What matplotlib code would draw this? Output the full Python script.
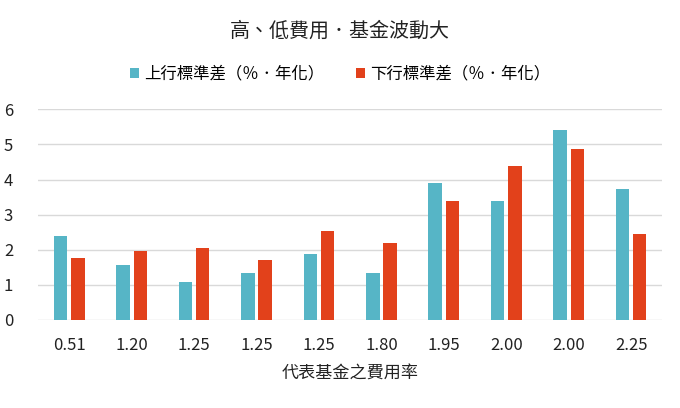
import matplotlib
matplotlib.use('Agg')
import matplotlib.pyplot as plt
import numpy as np

plt.rcParams['font.family'] = ['Noto Sans CJK TC', 'DejaVu Sans']

# 代表基金之費用率
expense_labels = ['0.51', '1.20', '1.25', '1.25', '1.25', '1.80', '1.95', '2.00', '2.00', '2.25']
upside_std = [2.39, 1.55, 1.08, 1.35, 1.87, 1.33, 3.91, 3.39, 5.40, 3.73]
downside_std = [1.76, 1.97, 2.05, 1.70, 2.53, 2.18, 3.39, 4.39, 4.87, 2.45]

blue = '#56B5C6'
red = '#E2411B'

fig = plt.figure(figsize=(6.8, 4.08), dpi=100)
ax = fig.add_axes([0.056, 0.216, 0.918, 0.516])

x = np.arange(len(expense_labels))
w = 0.216
off = 0.138
ax.bar(x - off, upside_std, w, color=blue, label='上行標準差（％．年化）', zorder=3)
ax.bar(x + off, downside_std, w, color=red, label='下行標準差（％．年化）', zorder=3)

ax.set_xlim(-0.5, len(expense_labels) - 0.5)
ax.set_ylim(0, 6)
ax.set_yticks(range(0, 7))
ax.set_xticks(x)
ax.set_xticklabels(expense_labels)
ax.tick_params(axis='both', length=0, labelsize=12, colors='#222222')
ax.tick_params(axis='x', pad=12)
ax.tick_params(axis='y', pad=18)
ax.grid(axis='y', color='#D9D9D9', linewidth=1, zorder=0)
for s in ax.spines.values():
    s.set_visible(False)

ax.set_xlabel('代表基金之費用率', fontsize=12.3, labelpad=8, color='#222222')

fig.text(0.5, 1 - 31 / 408, '高、低費用．基金波動大', ha='center', va='center',
         fontsize=14.4, color='#222222')
fig.legend(loc='center', bbox_to_anchor=(0.5, 1 - 74 / 408), ncol=2, frameon=False,
           fontsize=11.8, handlelength=0.55, handleheight=0.55, handletextpad=0.35,
           columnspacing=1.9)

fig.savefig('out.png', dpi=100)
